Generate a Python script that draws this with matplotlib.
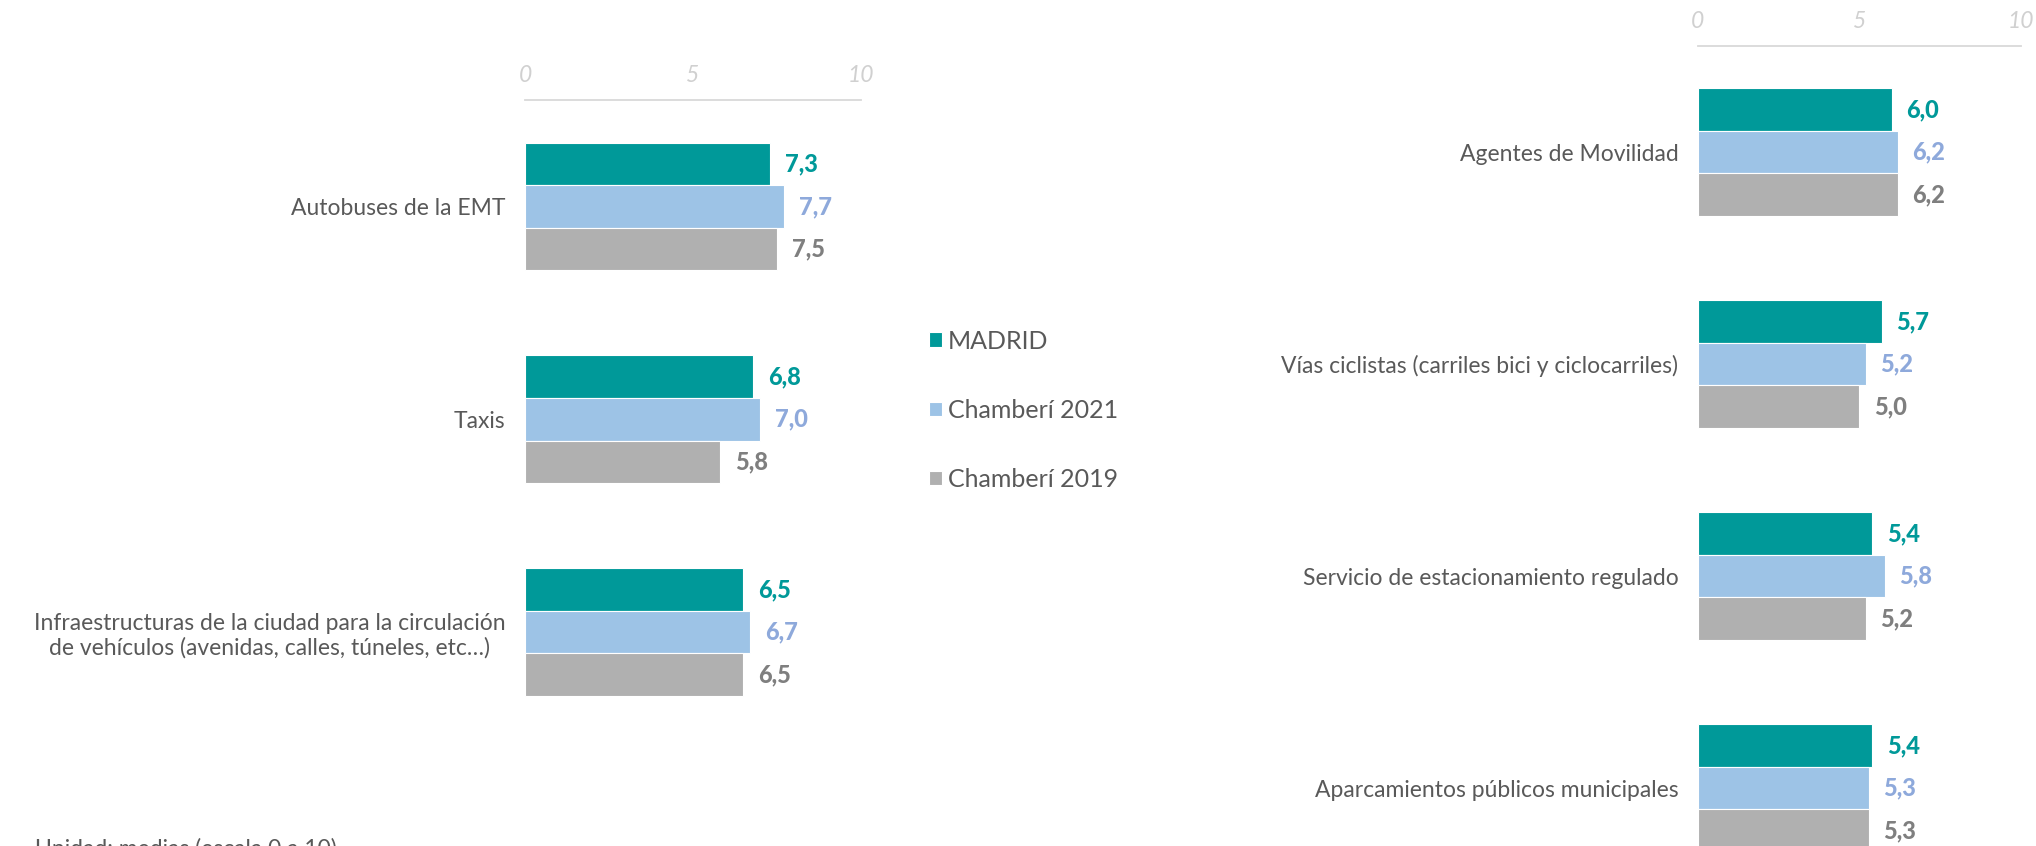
import matplotlib.pyplot as plt
import numpy as np

plt.rcParams['font.family'] = ['Lato', 'DejaVu Sans']

# data
series = ['MADRID', 'Chamberí 2021', 'Chamberí 2019']
left_cats = ['Autobuses de la EMT', 'Taxis',
             'Infraestructuras de la ciudad para la circulación\nde vehículos (avenidas, calles, túneles, etc…)']
left_madrid = [7.3, 6.8, 6.5]
left_ch2021 = [7.7, 7.0, 6.7]
left_ch2019 = [7.5, 5.8, 6.5]

right_cats = ['Agentes de Movilidad', 'Vías ciclistas (carriles bici y ciclocarriles)',
              'Servicio de estacionamiento regulado', 'Aparcamientos públicos municipales']
right_madrid = [6.0, 5.7, 5.4, 5.4]
right_ch2021 = [6.2, 5.2, 5.8, 5.3]
right_ch2019 = [6.2, 5.0, 5.2, 5.3]

ticks = [0, 5, 10]
note = 'Unidad: medias (escala 0 a 10)'

bar_colors = ['#009999', '#9DC3E6', '#B0B0B0']
lab_colors = ['#009999', '#8EA9DB', '#7F7F7F']
txt_color = '#595959'
FS = 16.5

W, H = 2036, 846
fig = plt.figure(figsize=(W / 100, H / 100), dpi=100)


def panel(rect, cats, vals):
    ax = fig.add_axes(rect)
    y = np.arange(len(cats))
    h = 0.2
    bars = []
    for i, (v, c, lc) in enumerate(zip(vals, bar_colors, lab_colors)):
        yy = y + (i - 1) * h
        b = ax.barh(yy, v, height=h, color=c, edgecolor='white', linewidth=0.8, label=series[i])
        bars.append(b)
        for yi, vi in zip(yy, v):
            ax.text(vi + 0.45, yi, f'{vi:.1f}'.replace('.', ','), va='center', ha='left',
                    fontsize=FS + 0.5, fontweight='black', color=lc)
    ax.set_xlim(0, 10)
    ax.set_ylim(len(cats) - 0.5, -0.5)
    ax.set_yticks(y)
    ax.set_yticklabels(cats, fontsize=FS, color=txt_color, multialignment='center')
    ax.xaxis.tick_top()
    ax.set_xticks(ticks)
    ax.set_xticklabels([str(t) for t in ticks], fontsize=FS, style='italic', color='#D0D0D0')
    ax.tick_params(axis='both', length=0)
    ax.tick_params(axis='x', pad=10)
    ax.tick_params(axis='y', pad=14)
    for s in ['right', 'bottom', 'left']:
        ax.spines[s].set_visible(False)
    ax.spines['top'].set_color('#D9D9D9')
    ax.spines['top'].set_linewidth(1.3)
    return ax, bars


# left panel: 525..861 px, 100..738 px
axl, bars = panel([525 / W, 1 - 738.5 / H, 336 / W, 638.5 / H], left_cats,
                  [left_madrid, left_ch2021, left_ch2019])
# right panel runs past the bottom edge
axr, _ = panel([1697.7 / W, 1 - 894 / H, 323 / W, 848 / H], right_cats,
               [right_madrid, right_ch2021, right_ch2019])

fig.legend(handles=bars, labels=series, loc='upper left', bbox_to_anchor=(906 / W, 1 - 307 / H),
           frameon=False, fontsize=18, handlelength=0.52, handleheight=0.52, handletextpad=0.25,
           labelspacing=1.85, labelcolor=txt_color)

fig.text(35 / W, 1 - 838 / H, note, fontsize=FS, color=txt_color, va='top', ha='left')

fig.savefig('out.png', dpi=100)
